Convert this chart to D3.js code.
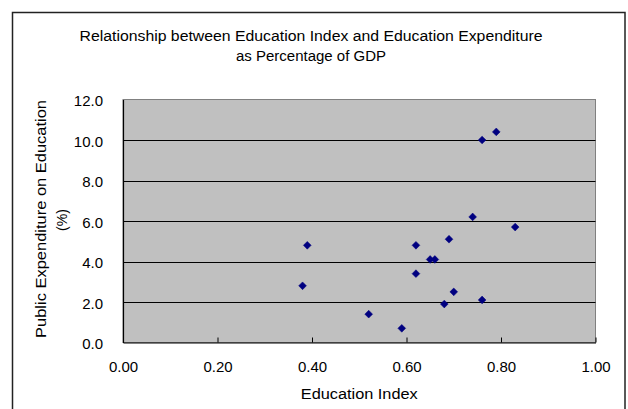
<!DOCTYPE html>
<html>
<head>
<meta charset="utf-8">
<script src="https://cdn.jsdelivr.net/npm/d3@7"></script>
<style>
  html, body { margin: 0; padding: 0; background: #fff; }
  svg { display: block; }
  text { font-family: "Liberation Sans", Arial, sans-serif; fill: #000; }
</style>
</head>
<body>
<svg id="chart" width="628" height="409"></svg>
<script>
// Education index vs. public education spending (% of GDP)
const educationIndex = [0.39, 0.38, 0.52, 0.76, 0.79, 0.74, 0.83, 0.69, 0.62, 0.65, 0.66, 0.62, 0.70, 0.68, 0.76, 0.59];
const expenditurePct = [4.8, 2.8, 1.4, 10.0, 10.4, 6.2, 5.7, 5.1, 4.8, 4.1, 4.1, 3.4, 2.5, 1.9, 2.1, 0.7];
const xTickValues = [0, 0.2, 0.4, 0.6, 0.8, 1.0];
const yTickValues = [0, 2, 4, 6, 8, 10, 12];
const titleLines = ["Relationship between Education Index and Education Expenditure", "as Percentage of GDP"];
const xTitle = "Education Index";
const yTitleLines = ["Public Expenditure on Education", "(%)"];

const svg = d3.select("#chart");
const W = 628, H = 409;
const plot = { left: 123, right: 595.5, top: 99.5, bottom: 342.5 };

// Outer chart frame
svg.append("rect")
  .attr("x", 12.5).attr("y", 12.5)
  .attr("width", 625 - 12.5).attr("height", H + 10)
  .attr("fill", "#fff").attr("stroke", "#222").attr("stroke-width", 1.5);

const x = d3.scaleLinear().domain([0, 1]).range([plot.left, plot.right]);
const y = d3.scaleLinear().domain([0, 12]).range([plot.bottom, plot.top]);

// Plot area background
svg.append("rect")
  .attr("x", plot.left).attr("y", plot.top)
  .attr("width", plot.right - plot.left).attr("height", plot.bottom - plot.top)
  .attr("fill", "#c0c0c0").attr("stroke", "#808080").attr("stroke-width", 1);

// Horizontal gridlines
svg.append("g")
  .selectAll("line")
  .data(yTickValues.filter(v => v > 0 && v < 12))
  .join("line")
  .attr("x1", plot.left).attr("x2", plot.right)
  .attr("y1", d => Math.round(y(d)) + 0.5).attr("y2", d => Math.round(y(d)) + 0.5)
  .attr("stroke", "#000").attr("stroke-width", 1);

// Y axis
const yAxis = d3.axisLeft(y).tickValues(yTickValues).tickSize(0).tickPadding(20)
  .tickFormat(d3.format(".1f"));
const gy = svg.append("g").attr("transform", `translate(${plot.left},0)`).call(yAxis);
gy.select(".domain").attr("stroke", "#000").attr("stroke-width", 1.2);
gy.selectAll("text").style("font-size", "15px").attr("dy", "0.4em");

// X axis with inward ticks
const xAxis = d3.axisBottom(x).tickValues(xTickValues).tickSizeInner(-5).tickSizeOuter(0)
  .tickPadding(19).tickFormat(d3.format(".2f"));
const gx = svg.append("g").attr("transform", `translate(0,${plot.bottom})`).call(xAxis);
gx.select(".domain").attr("stroke", "#000").attr("stroke-width", 1.2);
gx.selectAll(".tick line").attr("stroke", "#000");
gx.selectAll("text").style("font-size", "15px");

// Data points: rotated square markers
const marker = d3.symbol().type(d3.symbolSquare).size(30);
svg.append("g")
  .selectAll("path")
  .data(educationIndex.map((v, i) => [v, expenditurePct[i]]))
  .join("path")
  .attr("d", marker)
  .attr("transform", d => `translate(${x(d[0])},${y(d[1])}) rotate(45)`)
  .attr("fill", "#000080").attr("stroke", "#000080").attr("stroke-width", 0.5);

// Title
const title = svg.append("g");
title.append("text").attr("x", 311).attr("y", 41).attr("text-anchor", "middle")
  .style("font-size", "15.5px").attr("textLength", 463).attr("lengthAdjust", "spacingAndGlyphs")
  .text(titleLines[0]);
title.append("text").attr("x", 311).attr("y", 61).attr("text-anchor", "middle")
  .style("font-size", "15.5px").attr("textLength", 150).attr("lengthAdjust", "spacingAndGlyphs")
  .text(titleLines[1]);

// Axis titles
svg.append("text").attr("x", (plot.left + plot.right) / 2).attr("y", 399)
  .attr("text-anchor", "middle").style("font-size", "15.5px")
  .attr("textLength", 117).attr("lengthAdjust", "spacingAndGlyphs").text(xTitle);

svg.append("text").attr("transform", "translate(46,219) rotate(-90)")
  .attr("text-anchor", "middle").style("font-size", "15px")
  .attr("textLength", 238).attr("lengthAdjust", "spacingAndGlyphs")
  .text(yTitleLines[0]);
svg.append("text").attr("transform", "translate(67,220) rotate(-90)")
  .attr("text-anchor", "middle").style("font-size", "14px")
  .text(yTitleLines[1]);
</script>
</body>
</html>
